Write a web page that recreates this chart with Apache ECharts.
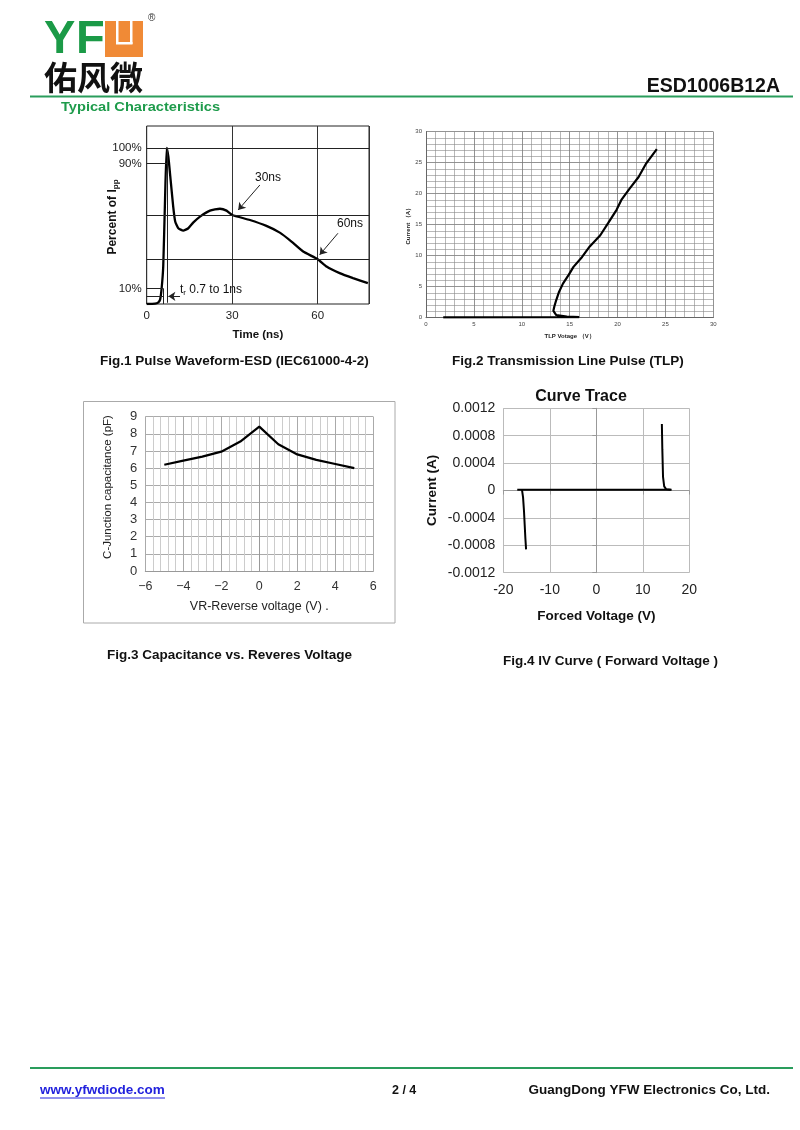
<!DOCTYPE html>
<html><head><meta charset="utf-8">
<script src="https://cdn.jsdelivr.net/npm/echarts@6/dist/echarts.min.js"></script>
<style>html,body{margin:0;padding:0;background:#fff}#c{width:800px;height:1130px}</style>
</head><body><div id="c"></div>
<script>
// ---- Fig.1 pulse waveform ----
const pulseTime = [0,2.9,4.1,4.7,5.25,5.8,6.4,7.0,7.6,8.4,9.3,10.0,11.1,12.8,14.6,16.3,18.7,22.2,25.7,28.0,30.0,36.2,42.0,46.7,50.8,54.9,60.0,63.1,67.7,72.4,77.6];
const pulsePct  = [0,0.2,1.1,2.8,10.2,24,64.5,100,94.3,79.4,62.3,52.8,48.5,47,48.5,52.1,56,59.8,61,59.8,57,53.8,50,45.7,40,33.6,28.7,24,19.8,16.6,13.4];
const pulseGridPct = [100,57,28.7];
const pulseTickLabels = {100:'100%',90:'90%',10:'10%'};
// ---- Fig.2 TLP ----
const tlpV = [1.8,16.0,14.7,13.6,13.3,13.4,13.6,13.9,14.3,14.9,15.4,16.3,17.1,18.2,19.0,19.9,20.4,21.3,22.2,23.0,24.1];
const tlpI = [0.05,0.1,0.16,0.43,1.1,1.8,2.85,4.2,5.5,6.9,8.2,9.8,11.5,13.3,15.2,17.4,19.0,20.9,22.7,24.9,27.2];
// ---- Fig.3 capacitance ----
const capV = [-5,-4,-3,-2,-1,0,1,2,3,4,5];
const capC = [6.2,6.44,6.67,6.96,7.55,8.42,7.39,6.8,6.48,6.24,6.0];
// ---- Fig.4 IV curve ----
const ivFlatV = [-17,16.2];
const ivFlatI = [0.00001,0.00001];
const ivNegV = [-16.0,-15.75,-15.55,-15.4,-15.25,-15.1];
const ivNegI = [0.00002,-0.0001,-0.0003,-0.0005,-0.0007,-0.00086];
const ivPosV = [14.1,14.2,14.35,14.6,15.0,16.0];
const ivPosI = [0.00097,0.0006,0.0002,0.00006,0.00002,0.00001];

const zip = (a,b)=>a.map((v,i)=>[v,b[i]]);
const AR = '"Liberation Sans", Arial, sans-serif';
const GREEN = '#1e9b4b';

const chart = echarts.init(document.getElementById('c'), null, {renderer:'canvas'});

function txt(x,y,text,opt,el){
  return Object.assign({type:'text', x:x, y:y, style:Object.assign({x:0,y:0,text:text,font:'12px '+AR,fill:'#111',align:'left',verticalAlign:'middle'}, opt||{})}, el||{});
}
function line(x1,y1,x2,y2,color,w){
  return {type:'line', shape:{x1:x1,y1:y1,x2:x2,y2:y2}, style:{stroke:color,lineWidth:w}};
}

const graphic = [
  // logo
  txt(44,40,'Y',{font:'bold 47px '+AR, fill:'#1b9a47'}),
  txt(76,40,'F',{font:'bold 47px '+AR, fill:'#1b9a47'}),
  {type:'rect', shape:{x:105,y:21,width:38,height:36}, style:{fill:'#f08a36'}},
  {type:'rect', shape:{x:116,y:21,width:2.5,height:23}, style:{fill:'#fff'}},
  {type:'rect', shape:{x:130,y:21,width:2.5,height:23}, style:{fill:'#fff'}},
  {type:'rect', shape:{x:116,y:42,width:16.5,height:2.5}, style:{fill:'#fff'}},
  txt(148,18,'®',{font:'10px '+AR, fill:'#333'}),
  txt(44,77,'佑风微',{font:'bold 33px "Noto Sans CJK SC", sans-serif', fill:'#111'}),
  txt(780,86.5,'ESD1006B12A',{font:'bold 19.5px '+AR, fill:'#111', align:'right'}),
  line(30,96.5,793,96.5,'#2a9d5c',2),
  txt(61,107.5,'Typical Characteristics',{font:'bold 12.5px '+AR, fill:GREEN},{scaleX:1.17}),
  // captions
  txt(100,361.5,'Fig.1 Pulse Waveform-ESD (IEC61000-4-2)',{font:'bold 13.5px '+AR}),
  txt(452,361.5,'Fig.2 Transmission Line Pulse (TLP)',{font:'bold 13.5px '+AR}),
  txt(107,655.5,'Fig.3 Capacitance vs. Reveres Voltage',{font:'bold 13.5px '+AR}),
  txt(503,661.5,'Fig.4 IV Curve ( Forward Voltage )',{font:'bold 13.5px '+AR}),
  // fig1 y title + annotations
  {type:'text', x:113, y:217, rotation:Math.PI/2, style:{x:0,y:0,text:'Percent of I{s|pp}', font:'bold 12px '+AR, fill:'#111', align:'center', verticalAlign:'middle',
     rich:{s:{fontSize:8, fontWeight:'bold', fontFamily:'Liberation Sans', verticalAlign:'bottom', padding:[5,0,0,0]}}}},
  txt(268,178,'30ns',{font:'12px '+AR, align:'center'}),
  txt(350,224,'60ns',{font:'12px '+AR, align:'center'}),
  {type:'text', x:180, y:290, style:{x:0,y:0,text:'t{s|r} 0.7 to 1ns', font:'12px '+AR, fill:'#111', verticalAlign:'middle',
     rich:{s:{fontSize:8, fontFamily:'Liberation Sans', verticalAlign:'bottom', padding:[6,0,0,0]}}}},
  // fig3 outer frame + y title
  {type:'rect', shape:{x:83.5,y:401.5,width:311.5,height:221.5}, style:{fill:'none',stroke:'#aaa',lineWidth:1}},
  txt(108,487,'C-Junction capacitance (pF)',{font:'11.5px '+AR, fill:'#222', align:'center'},{rotation:Math.PI/2}),
  // fig4 title
  txt(581,397,'Curve Trace',{font:'bold 16px '+AR, align:'center'}),
  // footer
  line(30,1068,793,1068,'#2a9d5c',2),
  txt(40,1090,'www.yfwdiode.com',{font:'bold 13.5px '+AR, fill:'#2222dd'}),
  line(40,1098,165,1098,'#2222dd',1),
  txt(392,1091,'2 / 4',{font:'bold 12.5px '+AR}),
  txt(770,1090,'GuangDong YFW Electronics Co, Ltd.',{font:'bold 13.5px '+AR, align:'right'})
];

const noLine = {show:false};
const option = {
  backgroundColor:'#fff',
  animation:false,
  graphic: graphic,
  grid:[
    {left:146.7, top:126, width:222.3, height:178, show:true, borderColor:'#222', borderWidth:1, containLabel:false},
    {left:426, top:131.7, width:287.3, height:186, containLabel:false},
    {left:145.3, top:416.7, width:228, height:154.3, containLabel:false},
    {left:503.3, top:408.3, width:186, height:164.4, containLabel:false}
  ],
  xAxis:[
    {gridIndex:0, type:'value', min:0, max:78, interval:30,
     axisLine:noLine, axisTick:noLine,
     axisLabel:{fontSize:11.5, color:'#222', fontFamily:'Liberation Sans', margin:6, formatter:v=> (v%30===0? String(v):'')},
     splitLine:{show:true, lineStyle:{color:'#333', width:1}},
     name:'Time (ns)', nameLocation:'middle', nameGap:25, nameTextStyle:{fontSize:11.5, fontWeight:'bold', color:'#111', fontFamily:'Liberation Sans'}},
    {gridIndex:1, type:'value', min:0, max:30, interval:5,
     axisLine:{show:true, lineStyle:{color:'#666', width:1}}, axisTick:noLine,
     axisLabel:{fontSize:6, color:'#444', margin:4},
     splitLine:{show:true, lineStyle:{color:'#777', width:0.8}},
     minorTick:{show:false, splitNumber:5}, minorSplitLine:{show:true, lineStyle:{color:'#888', width:0.6}},
     name:'TLP Votage （V）', nameLocation:'middle', nameGap:16, nameTextStyle:{fontSize:6, fontWeight:'bold', color:'#222'}},
    {gridIndex:2, type:'value', min:-6, max:6, interval:2,
     axisLine:{show:true, lineStyle:{color:'#999'}}, axisTick:noLine,
     axisLabel:{fontSize:12.5, color:'#333', fontFamily:'Liberation Sans', margin:9, formatter:v=>String(v).replace('-','−')},
     splitLine:{show:true, lineStyle:{color:'#aaa', width:1}},
     minorTick:{show:false, splitNumber:5}, minorSplitLine:{show:true, lineStyle:{color:'#ccc', width:1}},
     name:'VR-Reverse voltage (V) .', nameLocation:'middle', nameGap:29, nameTextStyle:{fontSize:12.5, color:'#222', fontFamily:'Liberation Sans'}},
    {gridIndex:3, type:'value', min:-20, max:20, interval:10,
     axisLine:{show:true, lineStyle:{color:'#999'}}, axisTick:{show:true, length:4, lineStyle:{color:'#999'}},
     axisLabel:{fontSize:14, color:'#222', fontFamily:'Liberation Sans', margin:10},
     splitLine:{show:true, lineStyle:{color:'#bbb', width:1}},
     name:'Forced Voltage (V)', nameLocation:'middle', nameGap:37, nameTextStyle:{fontSize:13.5, fontWeight:'bold', color:'#111', fontFamily:'Liberation Sans'}}
  ],
  yAxis:[
    {gridIndex:0, type:'value', min:0, max:114, interval:10,
     axisLine:noLine, axisTick:noLine, splitLine:noLine,
     axisLabel:{fontSize:11.5, color:'#222', fontFamily:'Liberation Sans', margin:5, showMaxLabel:false, formatter:v=> pulseTickLabels[v]||''}},
    {gridIndex:1, type:'value', min:0, max:30, interval:5,
     axisLine:{show:true, lineStyle:{color:'#666', width:1}}, axisTick:noLine,
     axisLabel:{fontSize:6, color:'#444', margin:4},
     splitLine:{show:true, lineStyle:{color:'#777', width:0.8}},
     minorTick:{show:false, splitNumber:5}, minorSplitLine:{show:true, lineStyle:{color:'#888', width:0.6}},
     name:'Current （A）', nameLocation:'middle', nameGap:12, nameTextStyle:{fontSize:6, fontWeight:'bold', color:'#222'}},
    {gridIndex:2, type:'value', min:0, max:9, interval:1,
     axisLine:{show:true, lineStyle:{color:'#999'}}, axisTick:noLine,
     axisLabel:{fontSize:13, color:'#333', fontFamily:'Liberation Sans', margin:8},
     splitLine:{show:true, lineStyle:{color:'#aaa', width:1}}},
    {gridIndex:3, type:'value', min:-0.0012, max:0.0012, interval:0.0004,
     axisLine:{show:true, lineStyle:{color:'#999'}}, axisTick:{show:true, length:4, lineStyle:{color:'#999'}},
     axisLabel:{fontSize:14, color:'#222', fontFamily:'Liberation Sans', margin:8, formatter:v=>String(Number(v.toFixed(4)))},
     splitLine:{show:true, lineStyle:{color:'#bbb', width:1}},
     name:'Current (A)', nameLocation:'middle', nameGap:64, nameTextStyle:{fontSize:13.5, fontWeight:'bold', color:'#111', fontFamily:'Liberation Sans'}}
  ],
  series:[
    {type:'line', xAxisIndex:0, yAxisIndex:0, data:zip(pulseTime,pulsePct), showSymbol:false, smooth:0.15,
     lineStyle:{color:'#000', width:2.3}, silent:true,
     markLine:{silent:true, symbol:'none', label:{show:false}, lineStyle:{color:'#222', width:1, type:'solid'},
       data: pulseGridPct.map(p=>({yAxis:p})).concat([
         [{coord:[0,90]},{coord:[7.3,90]}],
         [{coord:[0,10]},{coord:[5.8,10]}],
         [{coord:[0,4.9]},{coord:[5.8,4.9]}],
         [{coord:[5.8,0]},{coord:[5.8,10]}],
         [{coord:[7.3,0.8]},{coord:[7.3,100]}]
       ])}},
    {type:'line', xAxisIndex:0, yAxisIndex:0, data:[], silent:true,
     markLine:{silent:true, symbol:['none','arrow'], symbolSize:7, label:{show:false}, lineStyle:{color:'#222', width:1, type:'solid'},
       data:[
         [{coord:[39.7,76.2]},{coord:[32.1,60.2]}],
         [{coord:[67.1,45.3]},{coord:[60.7,31.5]}],
         [{coord:[11.7,4.9]},{coord:[7.6,4.9]}]
       ]}},
    {type:'line', xAxisIndex:1, yAxisIndex:1, data:zip(tlpV,tlpI), showSymbol:false, lineStyle:{color:'#000', width:2.2}},
    {type:'line', xAxisIndex:2, yAxisIndex:2, data:zip(capV,capC), showSymbol:false, smooth:false, lineStyle:{color:'#000', width:2.2}},
    {type:'line', xAxisIndex:3, yAxisIndex:3, data:zip(ivFlatV,ivFlatI), showSymbol:false, lineStyle:{color:'#000', width:2}},
    {type:'line', xAxisIndex:3, yAxisIndex:3, data:zip(ivNegV,ivNegI), showSymbol:false, lineStyle:{color:'#000', width:2}},
    {type:'line', xAxisIndex:3, yAxisIndex:3, data:zip(ivPosV,ivPosI), showSymbol:false, lineStyle:{color:'#000', width:2}}
  ]
};
chart.setOption(option);
</script></body></html>
